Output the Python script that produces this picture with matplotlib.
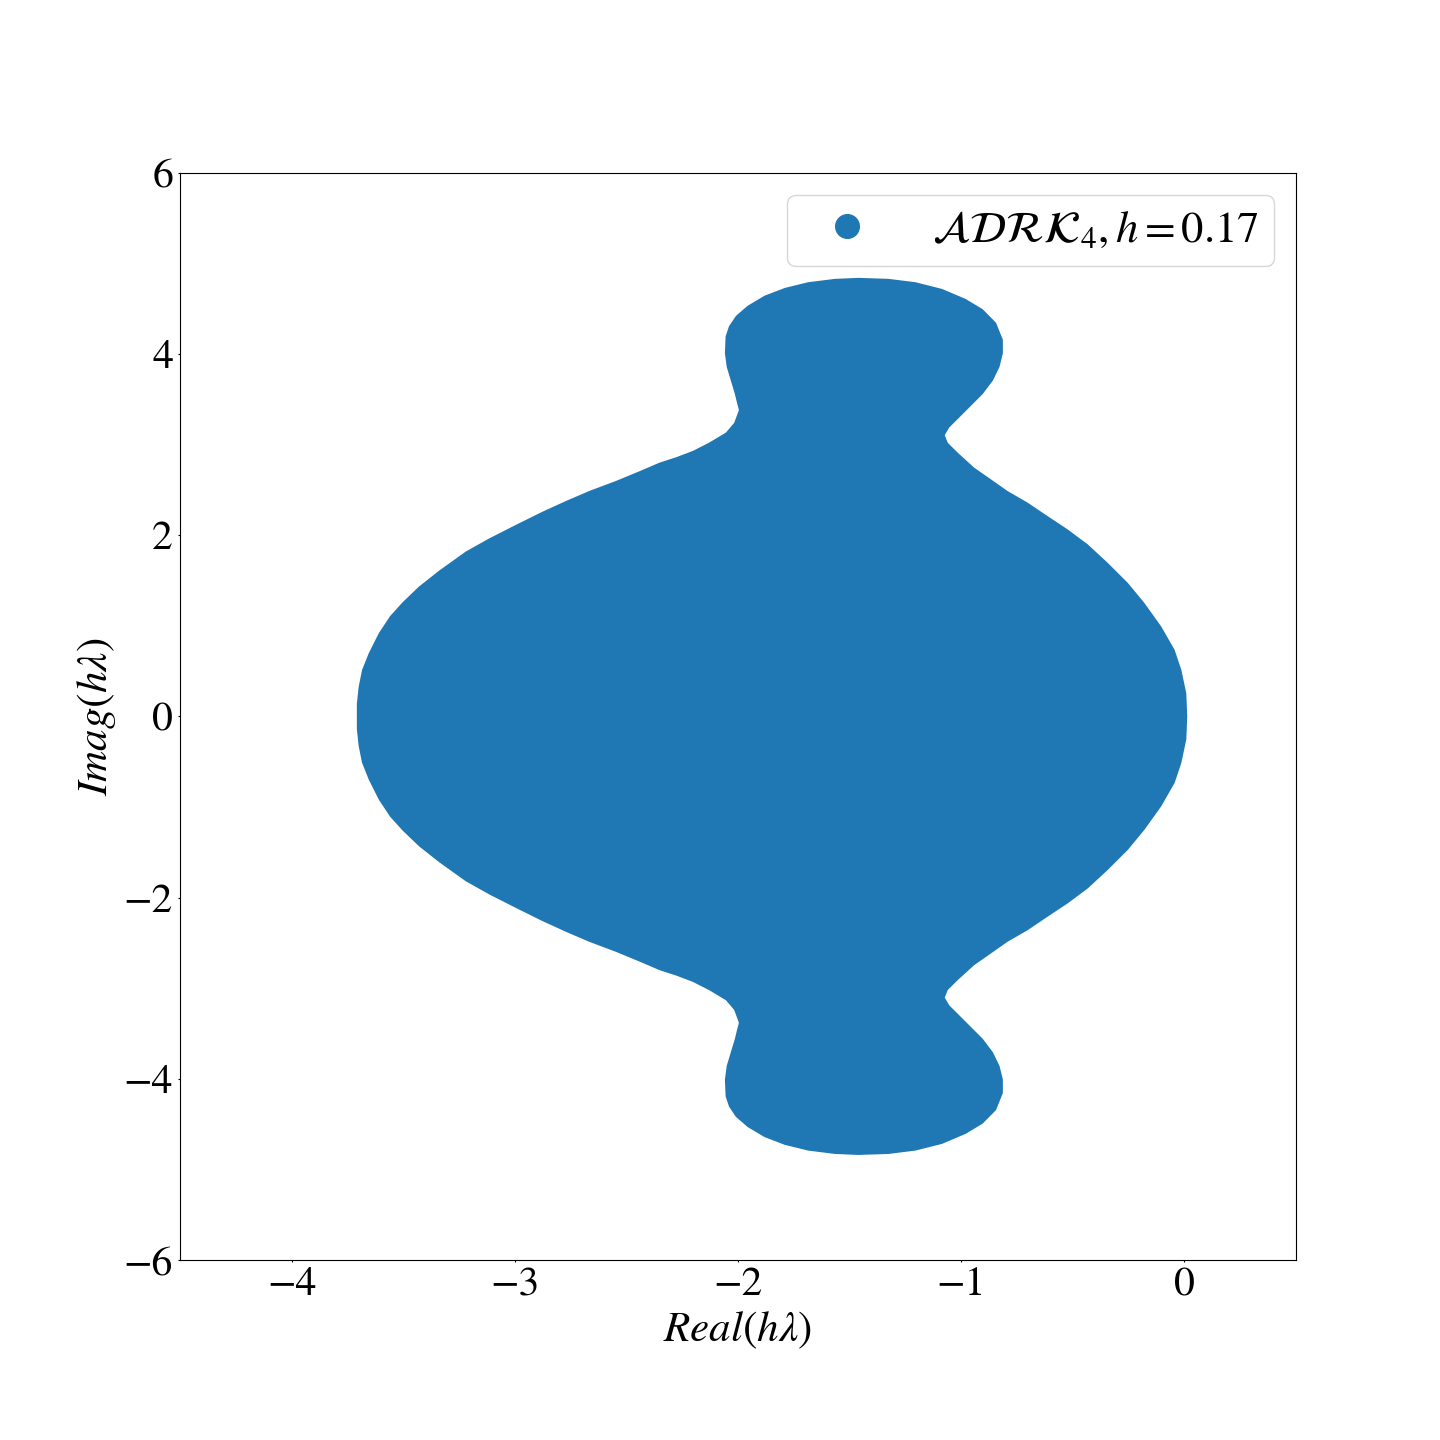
import numpy as np
import matplotlib.pyplot as plt
from matplotlib.lines import Line2D

plt.rcParams["mathtext.fontset"] = "stix"
plt.rcParams["font.family"] = ["STIXGeneral", "DejaVu Serif"]

# upper half of the stability boundary,
# traced from the left end on the real axis, over the top, to the right end.
# the lower half is the mirror image.
bnd_re = [-3.703, -3.703, -3.695, -3.680, -3.650, -3.605, -3.555, -3.500, -3.426, -3.336,
          -3.217, -3.112, -2.992, -2.873, -2.768, -2.664, -2.544, -2.440, -2.350, -2.275,
          -2.200, -2.126, -2.051, -2.013, -1.991, -1.999, -2.010, -2.028, -2.046, -2.054,
          -2.051, -2.036, -2.006, -1.954, -1.879, -1.789, -1.685, -1.565, -1.461, -1.326,
          -1.206, -1.087, -0.982, -0.907, -0.848, -0.818, -0.818, -0.833, -0.862, -0.907,
          -0.952, -1.012, -1.057, -1.079, -1.064, -1.019, -0.945, -0.870, -0.795, -0.705,
          -0.616, -0.526, -0.436, -0.347, -0.257, -0.183, -0.108, -0.048, -0.018, 0.004,
          0.008]
bnd_im = [0.0, 0.140, 0.324, 0.508, 0.693, 0.914, 1.100, 1.250, 1.425, 1.600,
          1.810, 1.955, 2.105, 2.250, 2.368, 2.478, 2.589, 2.695, 2.790, 2.850,
          2.920, 3.013, 3.124, 3.234, 3.381, 3.455, 3.566, 3.713, 3.860, 4.008,
          4.191, 4.302, 4.412, 4.523, 4.633, 4.718, 4.781, 4.818, 4.829, 4.818,
          4.781, 4.707, 4.597, 4.486, 4.339, 4.155, 4.008, 3.860, 3.713, 3.566,
          3.455, 3.307, 3.197, 3.105, 3.013, 2.903, 2.737, 2.608, 2.478, 2.350,
          2.202, 2.055, 1.890, 1.687, 1.466, 1.245, 0.987, 0.729, 0.508, 0.251,
          0.0]

label = r"$\mathcal{ADRK}_4, h=0.17$"

re_up = np.array(bnd_re)
im_up = np.array(bnd_im)
re_all = np.concatenate([re_up, re_up[::-1]])
im_all = np.concatenate([im_up, -im_up[::-1]])

fig, ax = plt.subplots(figsize=(14.4, 14.4), dpi=100)
fig.subplots_adjust(left=0.125, right=0.9, bottom=0.125, top=0.88)

ax.fill(re_all, im_all, color="#1f77b4", lw=1.5, ec="#1f77b4", joinstyle="round")

ax.set_xlim(-4.5, 0.5)
ax.set_ylim(-6, 6)
ax.set_xticks([-4, -3, -2, -1, 0])
ax.set_yticks([-6, -4, -2, 0, 2, 4, 6])
ax.tick_params(labelsize=30, length=1.5)
ax.set_xlabel(r"$Real(h\lambda)$", fontsize=31)
ax.set_ylabel(r"$Imag(h\lambda)$", fontsize=31)

handle = Line2D([], [], marker="o", ls="none", color="#1f77b4", markersize=17)
ax.legend([handle], [label], loc="upper right", fontsize=32, borderpad=0.35,
          handletextpad=0.9)

plt.savefig("out.png")
